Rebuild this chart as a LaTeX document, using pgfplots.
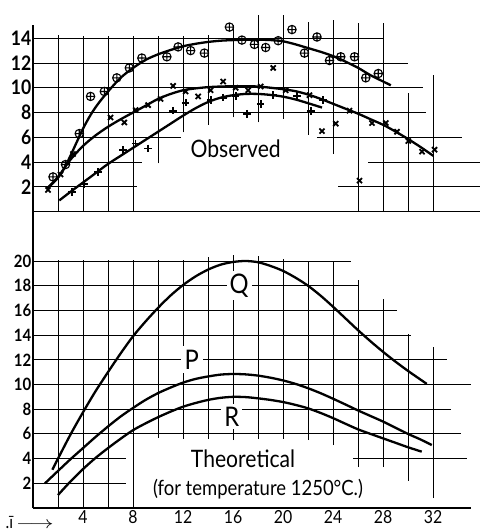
\documentclass[border=0pt]{standalone}
\usepackage{graphicx}
\usepackage{pgfplots}
\pgfplotsset{compat=1.18}
\usepackage{fontspec}
\setmainfont[FakeStretch=0.88]{Lato}
\pgfplotsset{
  gl/.style={black, line width=0.9pt, forget plot, unbounded coords=jump, mark=none},
  cv/.style={black, line width=2.3pt, smooth, mark=none},
  base/.style={scale only axis, axis x line=bottom, axis y line=left,
    axis line style={-, line width=1.4pt}, major tick length=0pt,
    /pgf/number format/assume math mode=true, clip=false},
}
\begin{document}
\begin{tikzpicture}
\useasboundingbox (-33pt,-23pt) rectangle (447pt,508pt);
% ---------------- Observed (top) ----------------
\begin{axis}[base, at={(0pt,296.4pt)}, anchor=south west,
  width=447pt, height=187pt, xmin=0, xmax=35.76, ymin=0, ymax=15.1,
  xtick=\empty, ytick={2,4,...,14},
  yticklabel style={font=\fontsize{20}{20}\selectfont\bfseries, inner xsep=1.5pt}]
% grid
\addplot[gl] coordinates {(0,14)(28,14) (nan,nan) (0,12)(30,12) (nan,nan) (0,10)(31.2,10) (nan,nan) (0,8)(31.4,8)
 (nan,nan) (0,6)(11.8,6) (nan,nan) (22.7,6)(34.3,6) (nan,nan) (0,4)(8.7,4) (nan,nan) (26.8,4)(35.8,4)
 (nan,nan) (0,2)(8.3,2) (nan,nan) (24.4,2)(35.8,2)};
\addplot[gl] coordinates {(2,0)(2,14.3) (nan,nan) (4,0)(4,14.2) (nan,nan) (6,0)(6,14.2) (nan,nan) (8,0)(8,14.2)
 (nan,nan) (10,3.9)(10,14.2) (nan,nan) (12,6.4)(12,14.2) (nan,nan) (14,7.0)(14,14.3) (nan,nan) (16,7.6)(16,15.1)
 (nan,nan) (18,7.2)(18,15.9) (nan,nan) (20,7.5)(20,15.9) (nan,nan) (22,6.2)(22,15.3) (nan,nan) (24,4.65)(24,15.5)
 (nan,nan) (26,0)(26,15.2) (nan,nan) (28,0)(28,15.2) (nan,nan) (30,0)(30,9.6) (nan,nan) (32,0)(32,11.0)};
% fitted curves
\addplot[cv] coordinates {(1.1,1.85)(1.6,2.3)(2.2,3.0)(2.8,4.1)(3.4,5.4)(4,6.7)(4.6,7.8)(5.2,8.7)(6,9.7)(7,10.8)(8,11.6)(9,12.25)(10,12.7)(11,13.05)(12,13.35)(13,13.55)(14,13.7)(15,13.8)(16,13.85)(17,13.88)(18,13.88)(19,13.85)(20,13.75)(21,13.5)(22,13.2)(23,12.9)(24,12.55)(25,12.1)(26,11.6)(27,11.0)(28,10.5)(28.6,10.2)};
\addplot[cv] coordinates {(1.1,1.85)(2,2.8)(3,4.2)(4,5.3)(5,6.15)(6,6.85)(7,7.45)(8,8.0)(9,8.55)(10,9.1)(11,9.5)(12,9.8)(13,9.95)(14,10.05)(15,10.1)(16,10.12)(17,10.12)(18,10.1)(19,10.0)(20,9.88)(21,9.72)(22,9.45)(23,9.1)(24,8.7)(25,8.3)(26,7.9)(27,7.45)(28,7.0)(29,6.45)(30,5.85)(31,5.2)(32,4.5)};
\addplot[cv] coordinates {(2.1,0.9)(3,1.6)(4,2.35)(5,3.1)(6,3.85)(7,4.5)(8,5.15)(9,5.8)(10,6.45)(11,7.1)(12,7.75)(13,8.35)(14,8.85)(15,9.2)(16,9.4)(17,9.5)(18,9.5)(19,9.42)(20,9.28)(21,9.05)(22,8.75)(23.1,8.4)};
% observed points
\addplot[only marks, mark=oplus, mark size=4.2pt, mark options={line width=1.1pt, fill=white}] coordinates {
 (1.6,2.8)(2.6,3.8)(3.7,6.3)(4.6,9.3)(5.7,9.7)(6.7,10.8)(7.7,11.6)(8.7,12.4)(10.7,12.5)(11.6,13.3)(12.6,13.0)(13.7,12.8)
 (15.7,14.9)(16.7,13.85)(17.7,13.5)(18.6,13.25)(19.6,13.8)(20.7,14.7)(21.7,12.8)(22.7,14.1)(23.7,12.2)(24.6,12.5)(25.7,12.5)(26.6,10.8)(27.6,11.15)};
\addplot[only marks, mark=x, mark size=3.6pt, mark options={line width=1.8pt}] coordinates {
 (1.2,1.75)(2.2,3.0)(3.2,4.65)(6.2,7.6)(7.3,7.2)(8.2,8.2)(9.2,8.6)(10.2,9.1)(11.2,10.15)(12.2,9.7)(13.2,9.3)(14.2,9.8)(15.2,10.5)
 (16.2,10.0)(17.2,9.8)(18.2,10.1)(19.2,11.6)(20.2,9.8)(22.1,9.4)(23.1,6.5)(24.2,7.1)(25.3,8.15)(26.1,2.5)(27.1,7.15)(28.2,7.15)(29.1,6.45)(30.0,5.7)(31.1,4.84)(32.1,5.0)};
\addplot[only marks, mark=+, mark size=3.8pt, mark options={line width=1.8pt}] coordinates {
 (3.1,1.6)(4.1,2.25)(5.2,3.2)(7.2,4.95)(8.2,5.5)(9.2,5.1)(11.2,8.15)(12.2,8.8)(14.2,9.0)(15.2,9.2)(16.2,9.35)(17.1,7.9)(18.2,8.7)(19.2,9.4)(21.1,9.35)(22.2,8.1)(23.2,9.0)};
\node[fill=white, inner sep=2pt, font=\fontsize{24}{24}\selectfont] at (axis cs:16.2,5.1) {Observed};
\end{axis}
% ---------------- Theoretical (bottom) ----------------
\begin{axis}[base, at={(0pt,0pt)}, anchor=south west,
  width=437.5pt, height=296.4pt, xmin=0, xmax=35, ymin=0, ymax=24,
  xtick={4,8,...,32}, ytick={2,4,...,20},
  yticklabel style={font=\fontsize{17}{17}\selectfont\bfseries, inner xsep=1.5pt},
  xticklabel style={font=\fontsize{18}{18}\selectfont, inner ysep=2pt}]
\addplot[gl] coordinates {(0,2)(7.4,2) (nan,nan) (0,4)(7.4,4) (nan,nan) (25.6,4)(34.7,4) (nan,nan) (0,6)(34.2,6)
 (nan,nan) (0,8)(33.4,8) (nan,nan) (0,10)(35,10) (nan,nan) (0,12)(33.1,12) (nan,nan) (0,14)(30.2,14)
 (nan,nan) (0,16)(29.1,16) (nan,nan) (0,18)(26,18) (nan,nan) (0,20)(25.4,20)};
\addplot[gl] coordinates {(2,0)(2,20.1) (nan,nan) (4,0)(4,20.1) (nan,nan) (6,0)(6,20.1) (nan,nan) (8,0)(8,20.1)
 (nan,nan) (10,5.7)(10,20.1) (nan,nan) (12,5.6)(12,20.1) (nan,nan) (14,5.6)(14,20.3) (nan,nan) (16,5.5)(16,20.5)
 (nan,nan) (18,5.6)(18,20.4) (nan,nan) (20,5.6)(20,20.2) (nan,nan) (22,5.5)(22,20.0) (nan,nan) (24,5.1)(24,20.0)
 (nan,nan) (26,3.3)(26,18.5) (nan,nan) (28,3.3)(28,16.9) (nan,nan) (30,2.2)(30,14.1) (nan,nan) (32,0.8)(32,13.0)};
\addplot[cv] coordinates {(1.55,3.1)(2,4.0)(3,5.95)(4,7.75)(5,9.45)(6,11.0)(7,12.5)(8,13.9)(9,15.1)(10,16.2)(11,17.2)(12,18.05)(13,18.75)(14,19.3)(15,19.7)(16,19.92)(17,20.0)(18,19.9)(19,19.6)(20,19.2)(21,18.65)(22,18.0)(23,17.2)(24,16.3)(25,15.35)(26,14.4)(27,13.5)(28,12.65)(29,11.85)(30,11.1)(31,10.4)(31.5,10.05)};
\addplot[cv] coordinates {(0.96,2.0)(2,3.0)(3,3.95)(4,4.85)(5,5.75)(6,6.6)(7,7.4)(8,8.1)(9,8.75)(10,9.3)(11,9.75)(12,10.15)(13,10.45)(14,10.65)(15,10.8)(16,10.85)(17,10.82)(18,10.72)(19,10.55)(20,10.33)(21,10.05)(22,9.7)(23,9.3)(24,8.85)(25,8.38)(26,7.9)(27,7.45)(28,7.0)(29,6.5)(30,6.0)(31,5.55)(31.9,5.1)};
\addplot[cv] coordinates {(2,1.05)(3,2.15)(4,3.15)(5,4.05)(6,4.85)(7,5.6)(8,6.3)(9,6.85)(10,7.35)(11,7.8)(12,8.2)(13,8.5)(14,8.75)(15,8.92)(16,9.0)(17,8.98)(18,8.88)(19,8.75)(20,8.58)(21,8.35)(22,8.07)(23,7.7)(24,7.28)(25,6.82)(26,6.37)(27,6.0)(28,5.64)(29,5.28)(30,4.92)(31.1,4.56)};
\node[fill=white, inner sep=3pt, font=\fontsize{27}{27}\selectfont] at (axis cs:16.5,18.0) {Q};
\node[fill=white, inner sep=4pt, font=\fontsize{27}{27}\selectfont] at (axis cs:12.7,12.0) {P};
\node[fill=white, inner sep=3pt, font=\fontsize{27}{27}\selectfont] at (axis cs:15.9,7.4) {R};
\node[fill=white, inner sep=2pt, font=\fontsize{24}{24}\selectfont] at (axis cs:16.8,3.95) {Theoretical};
\node[inner sep=1pt, font=\fontsize{21}{21}\selectfont] at (axis cs:18.0,1.5) {(for temperature 1250°C.)};
\node[anchor=base west, inner sep=0pt, font=\fontsize{18}{18}\selectfont] at (axis cs:-2.2,-1.65) {.ī\,\scalebox{1.35}[1]{$\longrightarrow$}};
\end{axis}
\end{tikzpicture}
\end{document}
